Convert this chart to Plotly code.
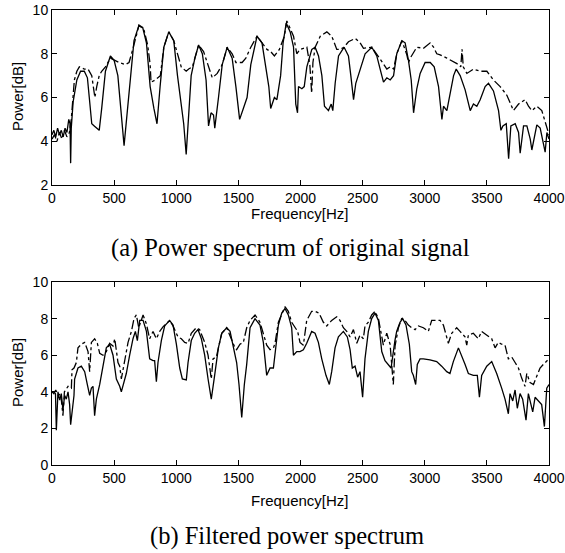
import plotly.graph_objects as go

# ---------------- data ----------------
# (a) original signal: solid line
TOP_SOLID_F = [0, 15, 30, 45, 60, 75, 90, 105, 120, 135, 145, 150, 155, 170, 200, 230, 260, 285, 300, 320,
               340, 360, 380, 400, 430, 470, 500, 530, 560, 580, 600, 630, 660, 700, 730, 760, 790, 820, 845, 870,
               900, 940, 980, 1010, 1040, 1060, 1080, 1100, 1120, 1150, 1180, 1210, 1240, 1260, 1280, 1300, 1310,
               1340, 1370, 1410, 1450, 1480, 1510, 1540, 1570, 1600, 1650, 1690, 1720, 1745, 1760, 1790, 1810, 1840,
               1860, 1885, 1917, 1944, 1962, 1976, 1984, 2011, 2030, 2051, 2091, 2118, 2145, 2172, 2193, 2225, 2247,
               2260, 2279, 2306, 2351, 2386, 2405, 2427, 2445, 2480, 2520, 2574, 2614, 2641, 2668, 2695, 2722, 2749,
               2775, 2816, 2842, 2869, 2891, 2910, 2936, 2963, 3003, 3044, 3076, 3111, 3138, 3151, 3178, 3205, 3232,
               3253, 3285, 3325, 3366, 3392, 3419, 3446, 3486, 3513, 3553, 3594, 3613, 3629, 3656, 3675, 3693, 3728,
               3755, 3768, 3795, 3822, 3849, 3862, 3902, 3929, 3969, 3983, 4000]
TOP_SOLID_P = [4.3, 4.5, 4.2, 4.6, 4.3, 4.5, 4.2, 4.6, 4.4, 5.0, 4.8, 3.0, 4.6, 5.8, 6.8, 7.2, 7.2, 6.9, 6.0, 4.8,
               4.7, 4.6, 4.5, 5.5, 7.2, 7.9, 7.7, 7.0, 5.0, 3.8, 5.0, 7.0, 8.6, 9.3, 9.2, 8.5, 6.5, 5.5, 4.8, 6.5,
               8.3, 9.0, 8.6, 7.0, 5.5, 4.8, 3.4, 5.5, 7.0, 7.8, 8.4, 8.0, 6.8, 4.7, 5.3, 5.2, 4.6,
               6.0, 7.5, 8.3, 7.8, 6.5, 5.0, 5.5, 6.0, 7.5, 8.8, 8.5, 7.5, 6.5, 5.5, 6.0, 5.9, 7.0,
               8.5, 9.4, 9.0, 8.3, 5.7, 5.3, 6.5, 6.4, 6.5, 7.4, 8.2, 8.3, 7.9, 7.0, 5.6, 5.4, 5.7,
               5.4, 6.65, 7.9, 8.3, 7.9, 7.0, 5.9, 6.65, 7.3, 8.0, 8.3, 7.9, 7.3, 6.7, 6.9, 6.8, 7.0,
               8.0, 8.6, 8.5, 7.7, 6.8, 5.3, 6.4, 7.1, 7.6, 7.6, 7.4, 6.5, 5.0, 5.6, 5.4, 6.2, 7.0,
               7.3, 7.0, 6.35, 5.4, 5.7, 5.6, 5.9, 6.5, 6.65, 6.3, 5.4, 4.5, 4.7, 4.8, 3.2, 4.7, 4.8,
               4.4, 3.45, 4.7, 4.7, 4.1, 3.6, 4.75, 4.6, 3.5, 4.4, 4.1]

# (a) original signal: dash-dot line
TOP_DASH_F = [0, 20, 40, 60, 80, 100, 120, 140, 155, 180, 200, 220, 260, 290, 320, 345, 360, 380, 400, 430,
              470, 500, 540, 590, 620, 650, 700, 740, 770, 790, 797, 830, 872, 900, 940, 980, 1010, 1040, 1080,
              1100, 1130, 1180, 1220, 1260, 1290, 1330, 1370, 1410, 1450, 1480, 1530, 1560, 1600, 1650, 1700,
              1730, 1760, 1790, 1830, 1870, 1890, 1920, 1944, 1970, 1997, 2024, 2051, 2075, 2090, 2100, 2118,
              2159, 2212, 2252, 2292, 2320, 2350, 2386, 2440, 2480, 2507, 2574, 2614, 2660, 2695, 2722, 2749,
              2775, 2816, 2856, 2869, 2883, 2936, 2990, 3044, 3071, 3097, 3124, 3178, 3232, 3259, 3290, 3300,
              3310, 3339, 3392, 3446, 3500, 3553, 3607, 3661, 3714, 3755, 3808, 3835, 3862, 3902, 3942, 3969, 4000]
TOP_DASH_P = [4.1, 4.3, 4.0, 4.4, 4.1, 4.5, 4.2, 4.4, 5.0, 6.8, 7.2, 7.4, 7.3, 7.3, 7.0, 6.0, 6.5, 7.0, 7.2, 7.4,
              7.8, 7.7, 7.6, 7.5, 7.6, 8.2, 9.3, 9.1, 8.4, 7.5, 6.7, 6.8, 7.0, 8.3, 9.0, 8.6, 8.0, 7.4, 7.2,
              7.3, 7.4, 8.4, 8.1, 7.4, 6.9, 7.1, 7.5, 8.3, 8.0, 7.6, 7.6, 7.8, 8.3, 8.8, 8.4,
              8.2, 8.1, 7.9, 8.2, 8.8, 9.5, 9.1, 8.8, 8.0, 8.2, 8.25, 8.3, 7.5, 6.2, 7.6, 8.3,
              8.8, 9.0, 8.8, 8.2, 8.2, 8.3, 8.55, 8.7, 8.5, 8.25, 8.3, 8.0, 7.6, 7.3, 7.4, 7.3,
              8.0, 8.6, 7.95, 7.6, 7.8, 8.3, 8.25, 8.5, 8.3, 8.0, 7.95, 7.8, 7.65, 7.55, 7.4, 8.2,
              7.4, 7.1, 7.3, 7.2, 7.2, 6.8, 6.5, 6.1, 5.4, 5.7, 5.9, 5.6, 5.4, 5.6, 5.4, 4.9, 4.3]

# (b) filtered: solid line
BOT_SOLID_F = [0, 15, 28, 35, 48, 62, 75, 88, 102, 115, 129, 142, 150, 161, 177, 182, 209, 236, 263, 284,
               303, 317, 330, 343, 357, 384, 410, 437, 464, 491, 518, 545, 558, 580, 598, 625, 652, 671, 687,
               706, 733, 760, 786, 813, 826, 840, 853, 880, 907, 947, 974, 1001, 1028, 1049, 1081, 1095, 1121,
               1148, 1175, 1202, 1229, 1256, 1282, 1309, 1339, 1366, 1406, 1433, 1460, 1486, 1505, 1527, 1548,
               1567, 1594, 1634, 1674, 1701, 1728, 1755, 1782, 1795, 1822, 1849, 1875, 1902, 1929, 1943, 1970,
               1996, 2023, 2050, 2090, 2117, 2144, 2171, 2205, 2232, 2251, 2278, 2305, 2345, 2377, 2399, 2417,
               2439, 2460, 2479, 2500, 2519, 2546, 2573, 2600, 2627, 2654, 2680, 2707, 2729, 2760, 2774, 2801,
               2822, 2849, 2876, 2895, 2908, 2927, 2940, 2962, 2989, 3042, 3096, 3136, 3177, 3203, 3230, 3271,
               3297, 3324, 3351, 3391, 3423, 3440, 3458, 3499, 3539, 3579, 3619, 3646, 3673, 3686, 3708, 3727,
               3745, 3767, 3788, 3815, 3834, 3853, 3869, 3888, 3914, 3941, 3963, 3982, 4000]
BOT_SOLID_P = [4.0, 4.0, 3.9, 1.9, 4.0, 3.55, 3.9, 3.0, 3.8, 3.6, 4.0, 3.3, 2.2, 3.0, 3.8, 4.7, 5.3, 5.4, 5.1, 4.4,
               3.8, 4.2, 4.3, 2.7, 3.6, 4.4, 5.5, 6.4, 6.6, 6.0, 4.7, 4.3, 4.0, 4.55, 5.0, 6.0, 6.9, 7.3, 6.8,
               7.9, 7.9, 7.3, 5.8, 5.7, 5.7, 4.55, 5.6, 6.8, 7.6, 7.9, 7.65, 6.6, 5.3, 4.7, 4.65, 5.6, 6.8,
               7.2, 7.4, 6.9, 6.0, 4.7, 3.6, 4.9, 6.4, 7.2, 7.5, 7.3, 6.4, 5.6, 4.4, 2.6, 4.4,
               5.5, 7.5, 8.0, 7.65, 6.7, 4.9, 5.3, 5.3, 6.2, 7.65, 8.3, 8.55, 8.2, 7.5, 6.0, 6.2,
               6.2, 6.3, 6.65, 7.3, 7.2, 6.7, 5.8, 4.9, 4.4, 5.1, 6.4, 7.0, 7.3, 7.0, 6.3, 5.3,
               5.4, 4.8, 5.1, 3.7, 5.8, 7.3, 8.0, 8.3, 7.9, 6.2, 5.7, 5.5, 5.3, 6.8, 7.3, 7.8,
               8.0, 7.65, 6.6, 5.1, 4.9, 4.4, 5.5, 5.8, 5.8, 5.75, 5.65, 5.4, 5.1, 5.0, 5.65, 6.4,
               6.0, 5.5, 5.0, 4.9, 4.9, 3.7, 4.9, 5.4, 5.65, 5.0, 4.2, 3.6, 2.8, 3.9, 3.5, 4.1,
               3.1, 3.9, 3.6, 2.45, 3.9, 3.3, 2.9, 3.7, 3.5, 3.3, 2.1, 4.2, 4.4]

# (b) filtered: dash-dot line
BOT_DASH_F = [0, 15, 30, 50, 70, 88, 100, 115, 129, 156, 161, 177, 196, 209, 236, 263, 290, 303, 317, 343,
              365, 384, 410, 437, 464, 491, 505, 531, 545, 558, 585, 612, 639, 660, 679, 698, 733, 760, 786,
              813, 840, 867, 893, 947, 974, 1014, 1041, 1068, 1095, 1121, 1161, 1188, 1229, 1256, 1282, 1296,
              1323, 1345, 1366, 1406, 1446, 1473, 1486, 1513, 1540, 1567, 1594, 1634, 1674, 1709, 1728, 1755,
              1782, 1795, 1822, 1875, 1902, 1929, 1956, 1977, 1996, 2023, 2050, 2090, 2117, 2149, 2184, 2211,
              2251, 2291, 2318, 2345, 2372, 2399, 2426, 2453, 2479, 2506, 2519, 2546, 2573, 2600, 2627, 2654,
              2667, 2694, 2721, 2747, 2761, 2788, 2814, 2841, 2868, 2895, 2922, 2949, 2989, 3029, 3056, 3083,
              3123, 3150, 3177, 3190, 3217, 3257, 3284, 3324, 3338, 3351, 3391, 3431, 3458, 3499, 3539, 3566,
              3592, 3619, 3646, 3673, 3700, 3727, 3754, 3780, 3807, 3821, 3848, 3875, 3902, 3928, 3955, 3982, 4000]
BOT_DASH_P = [4.0, 3.9, 4.1, 3.8, 3.9, 2.7, 4.0, 4.2, 4.3, 4.2, 5.2, 5.3, 5.6, 6.4, 6.6, 6.7, 6.2, 5.1, 6.7, 6.9,
              6.65, 6.1, 6.0, 6.2, 6.65, 6.5, 6.9, 5.6, 5.4, 4.7, 5.8, 6.7, 7.3, 8.0, 8.2, 7.5, 8.2, 7.7, 6.9,
              7.3, 6.9, 7.3, 7.55, 7.9, 7.6, 7.0, 6.9, 6.7, 6.65, 7.2, 7.5, 7.4, 6.7, 6.0, 4.7, 5.8,
              5.9, 6.5, 7.2, 7.5, 6.8, 6.4, 6.3, 6.6, 6.7, 7.5, 7.9, 8.2, 7.8, 7.0, 6.55, 6.3,
              6.4, 6.65, 7.8, 8.65, 8.4, 7.8, 7.5, 7.3, 6.7, 6.55, 7.9, 8.4, 8.4, 8.3, 7.8, 7.6,
              7.9, 8.1, 7.9, 7.5, 7.3, 7.0, 7.4, 6.65, 7.1, 6.9, 7.6, 7.8, 8.2, 8.4, 8.0, 7.0,
              6.55, 7.2, 6.6, 4.4, 6.5, 7.5, 8.0, 7.9, 7.65, 7.5, 7.4, 7.6, 7.5, 7.3, 7.9, 7.9,
              7.9, 7.65, 6.9, 6.65, 7.2, 7.5, 7.3, 7.0, 6.55, 7.1, 7.2, 6.9, 7.3, 7.1, 6.9, 6.4,
              6.7, 6.6, 6.55, 5.8, 5.9, 5.6, 5.3, 4.75, 4.3, 5.0, 4.5, 4.4, 4.9, 5.3, 5.5, 5.7, 5.8]

X_TICKS = [0, 500, 1000, 1500, 2000, 2500, 3000, 3500, 4000]
TOP_Y_TICKS = [2, 4, 6, 8, 10]
BOT_Y_TICKS = [0, 2, 4, 6, 8, 10]
X_LABEL = "Frequency[Hz]"
Y_LABEL = "Power[dB]"
CAPTION_A = "(a) Power specrum of original signal"
CAPTION_B = "(b) Filtered power spectrum"

# ---------------- figure ----------------
W, H = 565, 553
SANS = "Liberation Sans, Arial, sans-serif"
SERIF = "Liberation Serif, Times New Roman, serif"

fig = go.Figure()
solid = dict(color="black", width=1.3)
dashd = dict(color="black", width=1.3, dash="dashdot")

fig.add_trace(go.Scatter(x=TOP_DASH_F, y=TOP_DASH_P, mode="lines", line=dashd, xaxis="x", yaxis="y"))
fig.add_trace(go.Scatter(x=TOP_SOLID_F, y=TOP_SOLID_P, mode="lines", line=solid, xaxis="x", yaxis="y"))
fig.add_trace(go.Scatter(x=BOT_DASH_F, y=BOT_DASH_P, mode="lines", line=dashd, xaxis="x2", yaxis="y2"))
fig.add_trace(go.Scatter(x=BOT_SOLID_F, y=BOT_SOLID_P, mode="lines", line=solid, xaxis="x2", yaxis="y2"))


def px_x(p):
    return p / W


def px_y(p):
    return 1 - p / H


axis_common = dict(showline=True, linecolor="black", linewidth=1, mirror="allticks", ticks="inside",
                   ticklen=5, tickcolor="black", tickwidth=1, showgrid=False, zeroline=False,
                   automargin=False,
                   tickfont=dict(family=SANS, size=14, color="black"))

xdom = [px_x(52), px_x(549)]
fig.update_layout(
    template="none",
    width=W, height=H, margin=dict(l=0, r=0, t=0, b=0, pad=0, autoexpand=False),
    paper_bgcolor="white", plot_bgcolor="white", showlegend=False,
    xaxis=dict(domain=xdom, range=[0, 4000], tickvals=X_TICKS, anchor="y", **axis_common),
    yaxis=dict(domain=[px_y(185), px_y(10)], range=[2, 10], tickvals=TOP_Y_TICKS, anchor="x", **axis_common),
    xaxis2=dict(domain=xdom, range=[0, 4000], tickvals=X_TICKS, anchor="y2", **axis_common),
    yaxis2=dict(domain=[px_y(465), px_y(282)], range=[0, 10], tickvals=BOT_Y_TICKS, anchor="x2", **axis_common),
)

lab_font = dict(family=SANS, size=15, color="black")
cap_font = dict(family=SERIF, size=24.5, color="black")
ann = []
xc = px_x(300)
ann.append(dict(text=X_LABEL, x=xc, y=px_y(214), xref="paper", yref="paper", showarrow=False,
                font=lab_font, xanchor="center", yanchor="middle"))
ann.append(dict(text=X_LABEL, x=xc, y=px_y(500), xref="paper", yref="paper", showarrow=False,
                font=lab_font, xanchor="center", yanchor="middle"))
ann.append(dict(text=Y_LABEL, x=px_x(17), y=px_y(97), xref="paper", yref="paper", showarrow=False, textangle=-90,
                font=lab_font, xanchor="center", yanchor="middle"))
ann.append(dict(text=Y_LABEL, x=px_x(17), y=px_y(373), xref="paper", yref="paper", showarrow=False, textangle=-90,
                font=lab_font, xanchor="center", yanchor="middle"))
ann.append(dict(text=CAPTION_A, x=px_x(290), y=px_y(248), xref="paper", yref="paper", showarrow=False,
                font=cap_font, xanchor="center", yanchor="middle"))
ann.append(dict(text=CAPTION_B, x=px_x(287), y=px_y(536), xref="paper", yref="paper", showarrow=False,
                font=cap_font, xanchor="center", yanchor="middle"))
fig.update_layout(annotations=ann)

fig.write_html(
    "out.html",
    config={"displayModeBar": False},
    post_script="document.body.style.margin='0';document.body.style.padding='0';"
                "document.body.style.overflow='hidden';",
)
